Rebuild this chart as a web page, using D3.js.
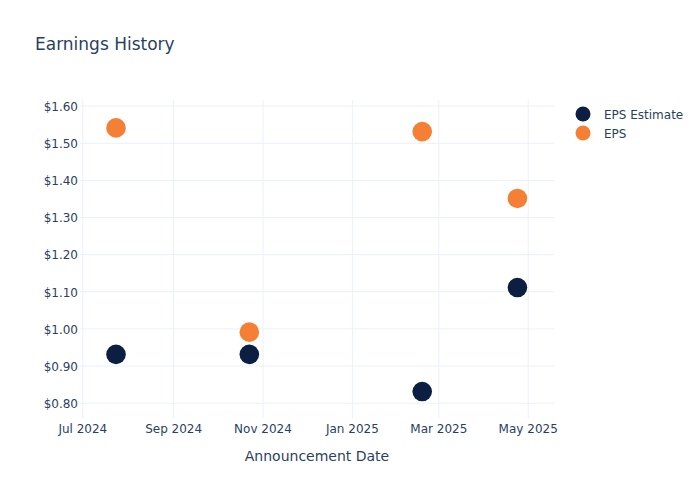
<!DOCTYPE html>
<html>
<head>
<meta charset="utf-8">
<script src="https://cdn.jsdelivr.net/npm/d3@7"></script>
<style>
  html, body { margin: 0; padding: 0; background: #fff; }
  svg { display: block; font-family: "DejaVu Sans", sans-serif; }
</style>
</head>
<body>
<svg id="chart" width="700" height="500"></svg>
<script>
// ---- data ----
const dates = ["2024-07-24", "2024-10-23", "2025-02-18", "2025-04-24"];
const epsEstimate = [0.93, 0.93, 0.83, 1.11];
const eps = [1.54, 0.99, 1.53, 1.35];
const seriesNames = ["EPS Estimate", "EPS"];
const seriesColors = ["#0c1e42", "#f58035"];
const xTickDates = ["2024-07-01", "2024-09-01", "2024-11-01", "2025-01-01", "2025-03-01", "2025-05-01"];
const yTickValues = [0.8, 0.9, 1.0, 1.1, 1.2, 1.3, 1.4, 1.5, 1.6];
const titleText = "Earnings History";
const xAxisTitle = "Announcement Date";

// ---- layout ----
const W = 700, H = 500;
const plot = { left: 80, right: 554, top: 100, bottom: 418 };
const textColor = "#2a3f5f";
const gridColor = "#ebf0f8";

const parse = d3.utcParse("%Y-%m-%d");
const svg = d3.select("#chart");

const x0 = parse("2024-07-01"), x1 = parse("2025-05-01");
const base = d3.scaleUtc().domain([x0, x1]).range([82.3, 527.7]);
const x = d3.scaleUtc()
  .domain([base.invert(plot.left), base.invert(plot.right)])
  .range([plot.left, plot.right]);

const yb = d3.scaleLinear().domain([0.8, 1.6]).range([402.7, 105.6]);
const y = d3.scaleLinear()
  .domain([yb.invert(plot.bottom), yb.invert(plot.top)])
  .range([plot.bottom, plot.top]);

// title
svg.append("text")
  .attr("x", 35).attr("y", 50)
  .attr("fill", textColor)
  .attr("font-size", 17)
  .text(titleText);

const xAxis = d3.axisBottom(x)
  .tickValues(xTickDates.map(parse))
  .tickSize(-(plot.bottom - plot.top))
  .tickPadding(6)
  .tickFormat(d3.utcFormat("%b %Y"));
const gx = svg.append("g")
  .attr("transform", `translate(0,${plot.bottom})`)
  .call(xAxis);
gx.select(".domain").remove();
gx.selectAll(".tick line").attr("stroke", gridColor).attr("stroke-width", 1);
gx.selectAll(".tick text")
  .attr("fill", textColor)
  .attr("font-size", 12)
  .attr("font-family", "DejaVu Sans, sans-serif");

const yAxis = d3.axisLeft(y)
  .tickValues(yTickValues)
  .tickSize(-(plot.right - plot.left))
  .tickPadding(2)
  .tickFormat(d => "$" + d3.format(".2f")(d));
const gy = svg.append("g")
  .attr("transform", `translate(${plot.left},0)`)
  .call(yAxis);
gy.select(".domain").remove();
gy.selectAll(".tick line").attr("stroke", gridColor).attr("stroke-width", 1);
gy.selectAll(".tick text")
  .attr("fill", textColor)
  .attr("font-size", 12)
  .attr("dy", "0.4em")
  .attr("font-family", "DejaVu Sans, sans-serif");

svg.append("text")
  .attr("x", (plot.left + plot.right) / 2)
  .attr("y", 461)
  .attr("text-anchor", "middle")
  .attr("fill", textColor)
  .attr("font-size", 14)
  .text(xAxisTitle);

const series = [epsEstimate, eps];
series.forEach((vals, si) => {
  svg.append("g")
    .selectAll("circle")
    .data(vals.map((v, i) => ({ date: parse(dates[i]), value: v })))
    .join("circle")
    .attr("cx", d => x(d.date))
    .attr("cy", d => y(d.value))
    .attr("r", 9.8)
    .attr("fill", seriesColors[si]);
});

const legend = svg.append("g");
seriesNames.forEach((name, i) => {
  const ly = 114 + i * 19;
  legend.append("circle")
    .attr("cx", 583).attr("cy", ly).attr("r", 7.5)
    .attr("fill", seriesColors[i]);
  legend.append("text")
    .attr("x", 604).attr("y", ly + 4.5)
    .attr("fill", textColor)
    .attr("font-size", 12)
    .text(name);
});
</script>
</body>
</html>
